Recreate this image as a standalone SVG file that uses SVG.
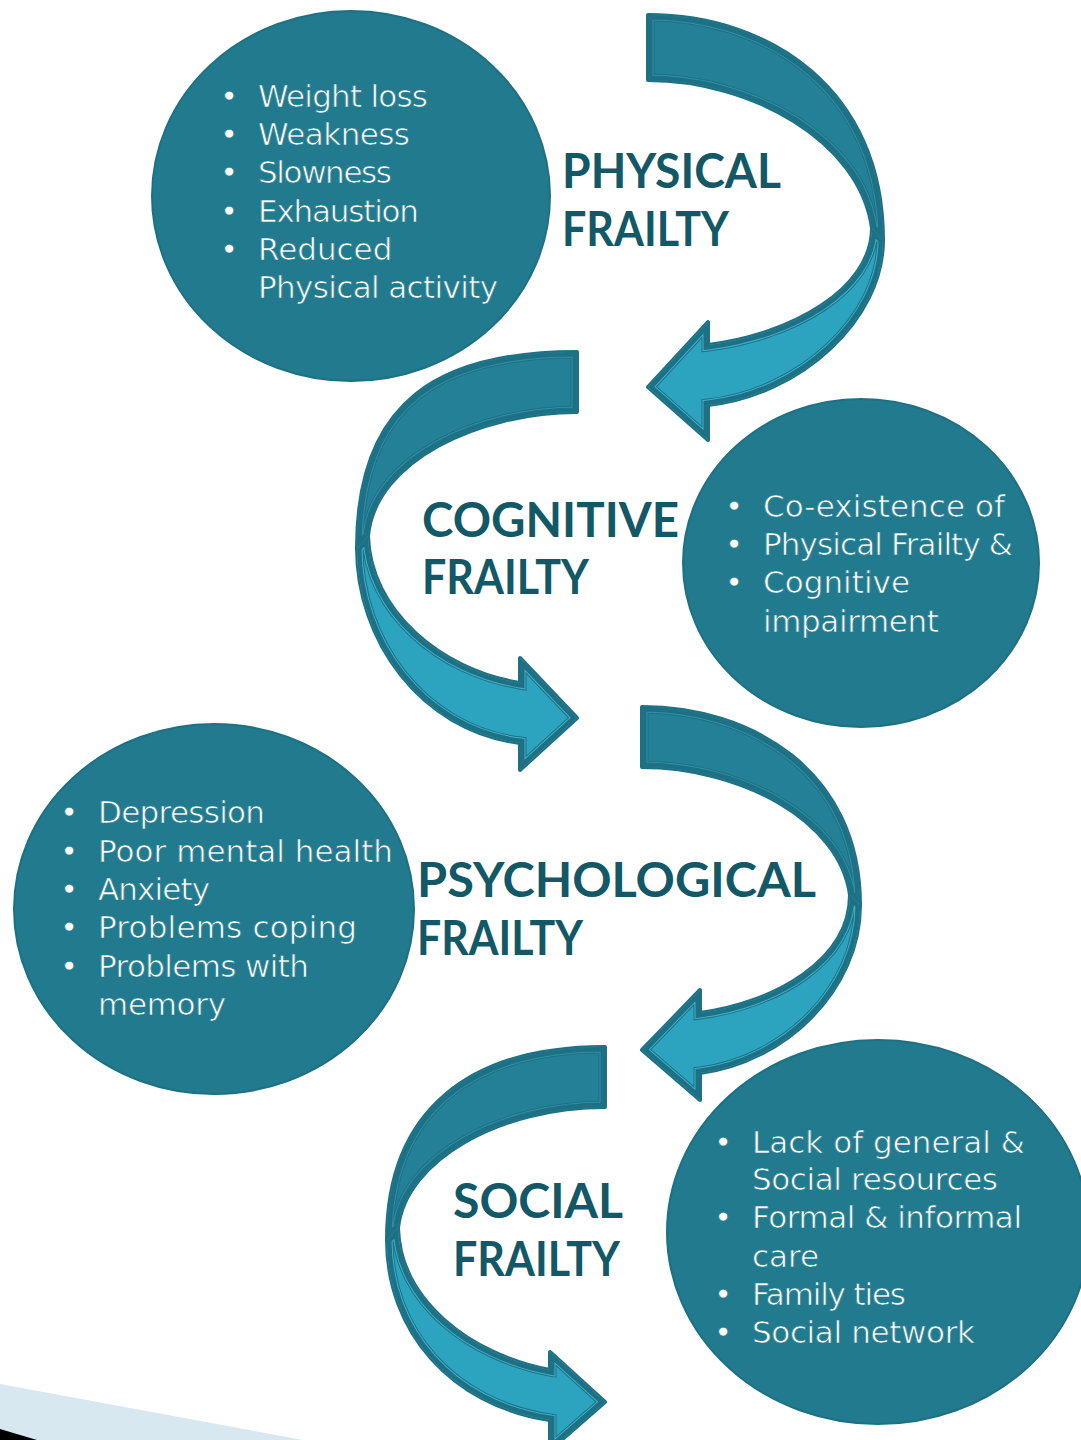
<svg xmlns="http://www.w3.org/2000/svg" xmlns:xlink="http://www.w3.org/1999/xlink" width="1081" height="1440" viewBox="0 0 1081 1440">
  <style>
    .node ellipse { fill: #217A8D; stroke: #1E7184; stroke-width: 2; }
    .item { font-family: "DejaVu Sans", "Liberation Sans", sans-serif; font-size: 31px; fill: #FFFFFF; stroke: #217A8D; stroke-width: 0.7px; }
    .title { font-family: Lato, "Liberation Sans", sans-serif; font-weight: 700; font-size: 47px; fill: #125867; }
    .edge { stroke: #1E7185; stroke-width: 4; stroke-linejoin: round; }
    .back { fill: #238096; }
    .front { fill: #2CA3BF; }
    .rim1 { fill: none; stroke: #1E7185; stroke-width: 13; }
    .rim2b { fill: none; stroke: #2E8FA6; stroke-width: 11; }
    .rim2f { fill: none; stroke: #3DB1CB; stroke-width: 11; }
    .rim3 { fill: none; stroke: #1E7185; stroke-width: 9; }
  </style>
  <defs>
    <!-- ribbon halves: back (dark, tail side) and front (light, head side) -->
    <path id="a1b" d="M648,15 C770,15 883,90 883,240 L872,228 C860,140 750,80 648,80 Z"/>
    <path id="a1f" d="M883,240 C883,320 800,395 708,405 L708,440 L648,387 L708,322 L708,345 C790,335 872,290 872,228 Z"/>
    <path id="a2b" d="M577,352 C440,352 357,400 357,548 L368,536 C375,460 480,412 577,412 Z"/>
    <path id="a2f" d="M357,548 C357,640 420,730 520,743 L520,770 L577,718 L520,658 L520,683 C440,670 370,610 368,536 Z"/>
    <path id="a3b" d="M642,707 C750,707 860,770 860,905 L850,895 C840,820 740,767 642,767 Z"/>
    <path id="a3f" d="M860,905 C860,990 785,1062 700,1073 L700,1100 L642,1050 L700,990 L700,1013 C775,1003 850,960 850,895 Z"/>
    <path id="a4b" d="M605,1047 C470,1047 387,1110 387,1240 L398,1228 C405,1160 500,1107 605,1107 Z"/>
    <path id="a4f" d="M387,1240 C387,1330 450,1405 550,1420 L550,1450 L605,1402 L550,1352 L550,1370 C470,1355 400,1300 398,1228 Z"/>
    <clipPath id="c1b"><use xlink:href="#a1b"/></clipPath>
    <clipPath id="c1f"><use xlink:href="#a1f"/></clipPath>
    <clipPath id="c2b"><use xlink:href="#a2b"/></clipPath>
    <clipPath id="c2f"><use xlink:href="#a2f"/></clipPath>
    <clipPath id="c3b"><use xlink:href="#a3b"/></clipPath>
    <clipPath id="c3f"><use xlink:href="#a3f"/></clipPath>
    <clipPath id="c4b"><use xlink:href="#a4b"/></clipPath>
    <clipPath id="c4f"><use xlink:href="#a4f"/></clipPath>
  </defs>

  <rect width="1081" height="1440" fill="#FFFFFF"/>

  <!-- corner band -->
  <polygon points="0,1384 303,1440 0,1440" fill="#D7E8F0"/>
  <polygon points="0,1429 37,1440 0,1440" fill="#000000"/>

  <!-- connectors: curved ribbon arrows -->
  <g id="connectors">
    <g id="arrow-physical-cognitive">
      <use xlink:href="#a1b" class="back edge"/>
      <g clip-path="url(#c1b)"><use xlink:href="#a1b" class="rim1"/><use xlink:href="#a1b" class="rim2b"/><use xlink:href="#a1b" class="rim3"/></g>
      <use xlink:href="#a1f" class="front edge"/>
      <g clip-path="url(#c1f)"><use xlink:href="#a1f" class="rim1"/><use xlink:href="#a1f" class="rim2f"/><use xlink:href="#a1f" class="rim3"/></g>
    </g>
    <g id="arrow-cognitive-psychological">
      <use xlink:href="#a2b" class="back edge"/>
      <g clip-path="url(#c2b)"><use xlink:href="#a2b" class="rim1"/><use xlink:href="#a2b" class="rim2b"/><use xlink:href="#a2b" class="rim3"/></g>
      <use xlink:href="#a2f" class="front edge"/>
      <g clip-path="url(#c2f)"><use xlink:href="#a2f" class="rim1"/><use xlink:href="#a2f" class="rim2f"/><use xlink:href="#a2f" class="rim3"/></g>
    </g>
    <g id="arrow-psychological-social">
      <use xlink:href="#a3b" class="back edge"/>
      <g clip-path="url(#c3b)"><use xlink:href="#a3b" class="rim1"/><use xlink:href="#a3b" class="rim2b"/><use xlink:href="#a3b" class="rim3"/></g>
      <use xlink:href="#a3f" class="front edge"/>
      <g clip-path="url(#c3f)"><use xlink:href="#a3f" class="rim1"/><use xlink:href="#a3f" class="rim2f"/><use xlink:href="#a3f" class="rim3"/></g>
    </g>
    <g id="arrow-social-out">
      <use xlink:href="#a4b" class="back edge"/>
      <g clip-path="url(#c4b)"><use xlink:href="#a4b" class="rim1"/><use xlink:href="#a4b" class="rim2b"/><use xlink:href="#a4b" class="rim3"/></g>
      <use xlink:href="#a4f" class="front edge"/>
      <g clip-path="url(#c4f)"><use xlink:href="#a4f" class="rim1"/><use xlink:href="#a4f" class="rim2f"/><use xlink:href="#a4f" class="rim3"/></g>
    </g>
  </g>

  <!-- physical frailty -->
  <g id="physical" class="node">
    <ellipse cx="351" cy="196" rx="199" ry="185"/>
    <text class="item" x="220" y="107">•</text><text class="item" x="258" y="107" textLength="170">Weight loss</text>
    <text class="item" x="220" y="145">•</text><text class="item" x="258" y="145" textLength="152">Weakness</text>
    <text class="item" x="220" y="183">•</text><text class="item" x="258" y="183" textLength="134">Slowness</text>
    <text class="item" x="220" y="222">•</text><text class="item" x="258" y="222" textLength="161">Exhaustion</text>
    <text class="item" x="220" y="260">•</text><text class="item" x="258" y="260">Reduced</text>
    <text class="item" x="258" y="298" textLength="240">Physical activity</text>
  </g>
  <g id="physical-label">
    <text class="title" x="562" y="188" textLength="219" lengthAdjust="spacingAndGlyphs">PHYSICAL</text>
    <text class="title" x="562" y="246" textLength="167" lengthAdjust="spacingAndGlyphs">FRAILTY</text>
  </g>

  <!-- cognitive frailty -->
  <g id="cognitive" class="node">
    <ellipse cx="861" cy="563" rx="178" ry="164"/>
    <text class="item" x="725" y="517">•</text><text class="item" x="763" y="517" textLength="242">Co-existence of</text>
    <text class="item" x="725" y="555">•</text><text class="item" x="763" y="555" textLength="250">Physical Frailty &amp;</text>
    <text class="item" x="725" y="593">•</text><text class="item" x="763" y="593" textLength="147">Cognitive</text>
    <text class="item" x="763" y="632" textLength="176">impairment</text>
  </g>
  <g id="cognitive-label">
    <text class="title" x="422" y="537" textLength="257" lengthAdjust="spacingAndGlyphs">COGNITIVE</text>
    <text class="title" x="422" y="594" textLength="167" lengthAdjust="spacingAndGlyphs">FRAILTY</text>
  </g>

  <!-- psychological frailty -->
  <g id="psychological" class="node">
    <ellipse cx="214" cy="909" rx="200" ry="185"/>
    <text class="item" x="60" y="823">•</text><text class="item" x="98" y="823" textLength="167">Depression</text>
    <text class="item" x="60" y="862">•</text><text class="item" x="98" y="862" textLength="295">Poor mental health</text>
    <text class="item" x="60" y="900">•</text><text class="item" x="98" y="900" textLength="112">Anxiety</text>
    <text class="item" x="60" y="938">•</text><text class="item" x="98" y="938" textLength="259">Problems coping</text>
    <text class="item" x="60" y="977">•</text><text class="item" x="98" y="977" textLength="211">Problems with</text>
    <text class="item" x="98" y="1015" textLength="128">memory</text>
  </g>
  <g id="psychological-label">
    <text class="title" x="417" y="897" textLength="399" lengthAdjust="spacingAndGlyphs">PSYCHOLOGICAL</text>
    <text class="title" x="417" y="955" textLength="166" lengthAdjust="spacingAndGlyphs">FRAILTY</text>
  </g>

  <!-- social frailty -->
  <g id="social" class="node">
    <ellipse cx="878" cy="1232" rx="211" ry="192"/>
    <text class="item" x="714" y="1153">•</text><text class="item" x="752" y="1153" textLength="273">Lack of general &amp;</text>
    <text class="item" x="752" y="1190" textLength="246">Social resources</text>
    <text class="item" x="714" y="1228">•</text><text class="item" x="752" y="1228" textLength="270">Formal &amp; informal</text>
    <text class="item" x="752" y="1267">care</text>
    <text class="item" x="714" y="1305">•</text><text class="item" x="752" y="1305" textLength="154">Family ties</text>
    <text class="item" x="714" y="1343">•</text><text class="item" x="752" y="1343" textLength="223">Social network</text>
  </g>
  <g id="social-label">
    <text class="title" x="453" y="1218" textLength="170" lengthAdjust="spacingAndGlyphs">SOCIAL</text>
    <text class="title" x="453" y="1276" textLength="167" lengthAdjust="spacingAndGlyphs">FRAILTY</text>
  </g>
</svg>
